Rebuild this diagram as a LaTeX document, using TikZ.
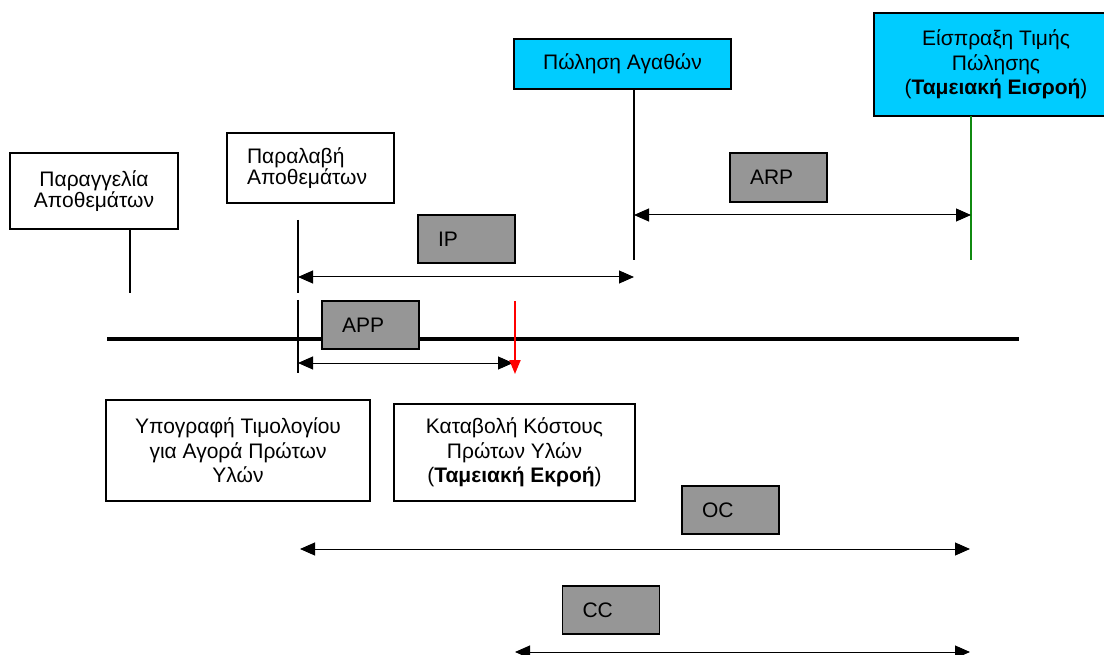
\documentclass[tikz,border=0pt]{standalone}
\usepackage{fontspec}
\setmainfont{Liberation Sans}
\usetikzlibrary{arrows.meta}
\definecolor{cyanbox}{HTML}{00CCFF}
\definecolor{graybox}{HTML}{969696}
\definecolor{greenline}{HTML}{108A10}
\tikzset{
  evbox/.style={draw, line width=1.2pt, inner sep=0pt, align=center,
    font=\fontsize{21}{24.5}\selectfont},
  gbox/.style={draw, fill=graybox, line width=1.2pt, minimum width=97pt,
    minimum height=48pt, text width=57pt, inner xsep=20pt, inner ysep=0pt,
    align=left, font=\fontsize{21}{24}\selectfont},
  tick/.style={line width=1.2pt},
  span/.style={line width=1pt, {Triangle[length=15pt,width=13pt]}-{Triangle[length=15pt,width=13pt]}},
  axis/.style={line width=4pt},
}
\begin{document}
\begin{tikzpicture}[x=1pt,y=-1pt]
\useasboundingbox (0,0) rectangle (1104,655);
% coordinates
\coordinate (axL) at (107,339);
\coordinate (axR) at (1019,339);
\coordinate (t1a) at (130,229);
\coordinate (t1b) at (130,293);
\coordinate (t2a) at (298,220);
\coordinate (t2b) at (298,293);
\coordinate (t3a) at (298,300);
\coordinate (t3b) at (298,373);
\coordinate (t4a) at (634,89);
\coordinate (t4b) at (634,260);
\coordinate (g1) at (971,116);
\coordinate (g2) at (971,260);
\coordinate (ipL) at (298,277);
\coordinate (ipR) at (634,277);
\coordinate (arpL) at (634,215);
\coordinate (arpR) at (971,215);
\coordinate (appL) at (298,363);
\coordinate (appR) at (513,363);
\coordinate (r1) at (515,301);
\coordinate (r2) at (515,374);
\coordinate (ocL) at (300,549);
\coordinate (ocR) at (970,549);
\coordinate (ccL) at (515,652);
\coordinate (ccR) at (970,652);
% axis (drawn first so the APP box covers it)
\draw[axis] (axL) -- (axR);
% event boxes
\node[evbox, minimum width=168pt, minimum height=76pt, font=\fontsize{21}{20.7}\selectfont] (order) at (94,191) {Παραγγελία\\Αποθεμάτων};
\node[evbox, minimum width=167pt, minimum height=70pt, text width=127pt, inner xsep=20pt, align=left, font=\fontsize{21}{20.7}\selectfont] (receive) at (310.5,168) {Παραλαβή\\Αποθεμάτων};
\node[evbox, fill=cyanbox, minimum width=217pt, minimum height=50pt] (sale) at (622.5,64) {Πώληση Αγαθών};
\node[evbox, fill=cyanbox, minimum width=244pt, minimum height=103pt] (collect) at (996,64.5) {Είσπραξη Τιμής\\Πώλησης\\(\textbf{Ταμειακή Εισροή})};
\node[evbox, minimum width=264pt, minimum height=101pt] (invoice) at (238,450.5) {Υπογραφή Τιμολογίου\\για Αγορά Πρώτων\\Υλών};
\node[evbox, minimum width=241pt, minimum height=97pt] (pay) at (514.5,452.5) {Καταβολή Κόστους\\Πρώτων Υλών\\(\textbf{Ταμειακή Εκροή})};
% gray label boxes
\node[gbox] (ip) at (466.5,239) {IP};
\node[gbox, minimum height=49pt] (arp) at (778.5,177.5) {ARP};
\node[gbox] (app) at (370.5,325) {APP};
\node[gbox] (oc) at (730.5,510) {OC};
\node[gbox] (cc) at (611,610) {CC};
% ticks
\draw[tick] (t1a) -- (t1b);
\draw[tick] (t2a) -- (t2b);
\draw[tick] (t3a) -- (t3b);
\draw[tick] (t4a) -- (t4b);
\draw[line width=2.2pt, greenline] (g1) -- (g2);
% spans
\draw[span] (ipL) -- (ipR);
\draw[span] (arpL) -- (arpR);
\draw[span] (appL) -- (appR);
\draw[span] (ocL) -- (ocR);
\draw[span] (ccL) -- (ccR);
\draw[line width=2pt, red, -{Triangle[length=14pt,width=11pt]}] (r1) -- (r2);
\end{tikzpicture}
\end{document}
